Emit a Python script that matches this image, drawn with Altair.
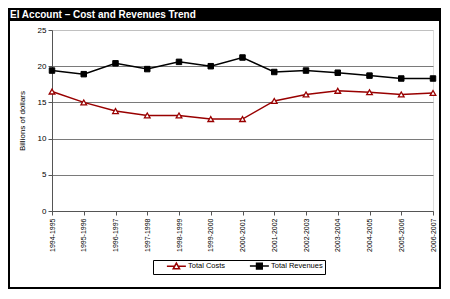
import altair as alt
import pandas as pd

years = ["1994-1995", "1995-1996", "1996-1997", "1997-1998", "1998-1999",
         "1999-2000", "2000-2001", "2001-2002", "2002-2003", "2003-2004",
         "2004-2005", "2005-2006", "2006-2007"]
total_costs = [16.5, 15.0, 13.8, 13.2, 13.2, 12.7, 12.7, 15.2, 16.1, 16.6, 16.4, 16.1, 16.3]
total_revenues = [19.4, 18.9, 20.4, 19.6, 20.6, 20.0, 21.2, 19.2, 19.4, 19.1, 18.7, 18.3, 18.3]
series_names = ["Total Costs", "Total Revenues"]
series_colors = ["#990000", "#000000"]
y_ticks = [0, 5, 10, 15, 20, 25]
title_text = "EI Account \u2013 Cost and Revenues Trend"

df = pd.DataFrame({
    "year": years * 2,
    "value": total_costs + total_revenues,
    "series": [series_names[0]] * len(years) + [series_names[1]] * len(years),
})

FONT = "Liberation Sans"
W, H = 381, 181

x_enc = alt.X("year:N", sort=years, title=None,
              scale=alt.Scale(type="point", padding=0),
              axis=alt.Axis(labelAngle=270, labelAlign="right", labelBaseline="middle",
                            labelFontSize=7, labelPadding=3, tickSize=4,
                            domainColor="#555555", tickColor="#555555",
                            labelColor="#000000", grid=False))
y_enc = alt.Y("value:Q", title="Billions of dollars",
              scale=alt.Scale(domain=[0, 25], nice=False),
              axis=alt.Axis(values=y_ticks, labelFontSize=8, labelPadding=2, tickSize=4,
                            domainColor="#555555", tickColor="#555555",
                            labelColor="#000000",
                            gridColor={"condition": {"test": "datum.value == 25", "value": "#c0c0c0"},
                                       "value": "#7a7a7a"},
                            titleFontSize=8, titleFontWeight="normal", titleAngle=270,
                            titleX=-30, titleY=H / 2, titleAlign="center",
                            titleBaseline="middle"))

stroke_scale = alt.Scale(domain=series_names, range=series_colors)

# legend symbols: a short line with the marker in its middle (unit = sqrt(size)/2)
tri_path = "M2.5,0L4.95,0M6.05,0L8.5,0M5.5,-1L6.5,0.8L4.5,0.8Z"
sq_path = "M2.5,0L8.5,0M4.6,-0.9L6.4,-0.9L6.4,0.9L4.6,0.9Z"

legend = alt.Legend(
    title=None, orient="none", legendX=101, legendY=230, direction="horizontal",
    columns=2, strokeColor="#000000", fillColor="#ffffff", padding=2,
    labelFontSize=7.5, labelFont=FONT, labelColor="#000000",
    labelExpr="datum.label == 'Total Revenues' ? datum.label + '          ' : datum.label",
    symbolSize=40, labelOffset=25, columnPadding=12,
    symbolStrokeWidth=1.5, symbolOpacity=1,
    symbolType={"expr": f"datum.value == 'Total Costs' ? '{tri_path}' : '{sq_path}'"},
    symbolFillColor={"expr": "datum.value == 'Total Costs' ? '#ffffff' : '#000000'"},
    symbolStrokeColor={"expr": "datum.value == 'Total Costs' ? '#990000' : '#000000'"},
)

lines = alt.Chart(df).mark_line(strokeWidth=1.5).encode(
    x=x_enc, y=y_enc,
    stroke=alt.Stroke("series:N", scale=stroke_scale, legend=legend),
)

cost_points = alt.Chart(df).transform_filter(
    alt.datum.series == series_names[0]
).mark_point(shape="triangle-up", filled=False, fill="#ffffff", stroke=series_colors[0],
             size=32, strokeWidth=1.3, opacity=1).encode(x=x_enc, y=y_enc)

rev_points = alt.Chart(df).transform_filter(
    alt.datum.series == series_names[1]
).mark_point(shape="square", filled=True, fill=series_colors[1], stroke=series_colors[1],
             size=30, strokeWidth=1, opacity=1).encode(x=x_enc, y=y_enc)

frame = alt.Chart(pd.DataFrame({"a": [0]})).mark_rect(
    fillOpacity=0, stroke="#000000", strokeWidth=2
).encode(x=alt.value(-43), x2=alt.value(388), y=alt.value(-21), y2=alt.value(258))

title_bar = alt.Chart(pd.DataFrame({"a": [0]})).mark_rect(color="#000000").encode(
    x=alt.value(-44), x2=alt.value(389), y=alt.value(-22), y2=alt.value(-9))

title_txt = alt.Chart(pd.DataFrame({"a": [0]})).mark_text(
    align="left", baseline="middle", color="#ffffff", font=FONT,
    fontSize=10, fontWeight="bold"
).encode(x=alt.value(-42), y=alt.value(-15.5), text=alt.value(title_text))

chart = alt.layer(frame, title_bar, title_txt, lines, cost_points, rev_points).properties(
    width=W, height=H,
    autosize=alt.AutoSizeParams(type="none"),
    padding={"left": 44, "top": 22, "right": 8, "bottom": 79},
    background="#ffffff",
).configure_view(stroke="#c0c0c0").configure(font=FONT)

chart.save("out.html", embed_options={"renderer": "svg", "actions": False})
